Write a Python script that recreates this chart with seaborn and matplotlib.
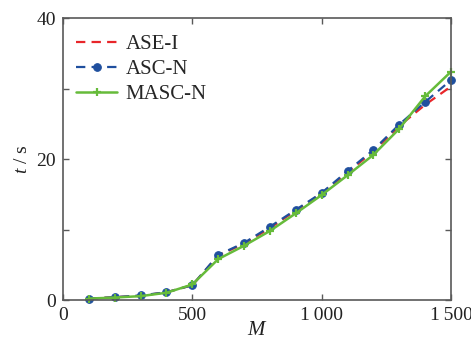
import matplotlib
matplotlib.use("Agg")
import matplotlib.pyplot as plt
import seaborn as sns
import pandas as pd
from matplotlib.ticker import MultipleLocator, FixedLocator

M = [100, 200, 300, 400, 500, 600, 700, 800, 900, 1000, 1100, 1200, 1300, 1400, 1500]
ase_i = [0.2, 0.4, 0.6, 1.1, 2.1, 6.3, 8.0, 10.2, 12.7, 15.1, 18.1, 21.1, 24.7, 27.7, 30.3]
asc_n = [0.2, 0.4, 0.65, 1.1, 2.1, 6.4, 8.1, 10.4, 12.8, 15.2, 18.3, 21.3, 24.9, 28.1, 31.2]
masc_n = [0.2, 0.35, 0.55, 1.03, 2.2, 5.8, 7.7, 9.8, 12.3, 14.9, 17.7, 20.6, 24.3, 28.9, 32.4]

xticks = [0, 500, 1000, 1500]
xticklabels = ["0", "500", "1\u2009000", "1\u2009500"]
yticks = [0, 20, 40]

sns.set_theme(style="ticks")
plt.rcParams["font.family"] = ["Liberation Serif", "DejaVu Serif"]
plt.rcParams["mathtext.fontset"] = "custom"
plt.rcParams["mathtext.it"] = "Liberation Serif:italic"
plt.rcParams["mathtext.rm"] = "Liberation Serif"

fig = plt.figure(figsize=(4.71, 3.42), dpi=100)
ax = fig.add_axes([0.1338, 0.1228, 0.8237, 0.8242])

df = pd.DataFrame({"M": M, "ASE-I": ase_i, "ASC-N": asc_n, "MASC-N": masc_n})

sns.lineplot(data=df, x="M", y="ASE-I", ax=ax, color="#e8262a", lw=1.6,
             linestyle=(0, (4.2, 2.8)), label="ASE-I", clip_on=False)
sns.lineplot(data=df, x="M", y="ASC-N", ax=ax, color="#1f4f9e", lw=1.6,
             linestyle=(0, (4.2, 2.8)), marker="o", markersize=5.5,
             markeredgecolor="#1f4f9e", label="ASC-N", clip_on=False)
sns.lineplot(data=df, x="M", y="MASC-N", ax=ax, color="#66bb3a", lw=1.8,
             marker="+", markersize=6, markeredgewidth=1.6,
             markeredgecolor="#66bb3a", label="MASC-N", clip_on=False)

ax.set_xlim(0, 1500)
ax.set_ylim(0, 40)
ax.xaxis.set_major_locator(FixedLocator(xticks))
ax.set_xticklabels(xticklabels)
ax.yaxis.set_major_locator(FixedLocator(yticks))
ax.yaxis.set_minor_locator(MultipleLocator(10))

for s in ax.spines.values():
    s.set_color("#595959")
    s.set_linewidth(1.2)
    s.set_visible(True)
ax.tick_params(which="both", direction="in", top=True, right=True,
               color="#595959", width=1.0, labelsize=14, labelcolor="#222222")
ax.tick_params(which="major", length=4, pad=5)
ax.tick_params(which="minor", length=4)

ax.set_xlabel(r"$M$", fontsize=15, labelpad=-2, color="#222222")
ax.set_ylabel(r"$t$ / s", fontsize=14, labelpad=4, color="#222222")

ax.legend(loc="upper left", bbox_to_anchor=(-0.01, 1.0), frameon=False,
          fontsize=15, handlelength=2.0, handletextpad=0.4,
          labelspacing=0.25, borderaxespad=0.4)

fig.savefig("out.png", dpi=100)
